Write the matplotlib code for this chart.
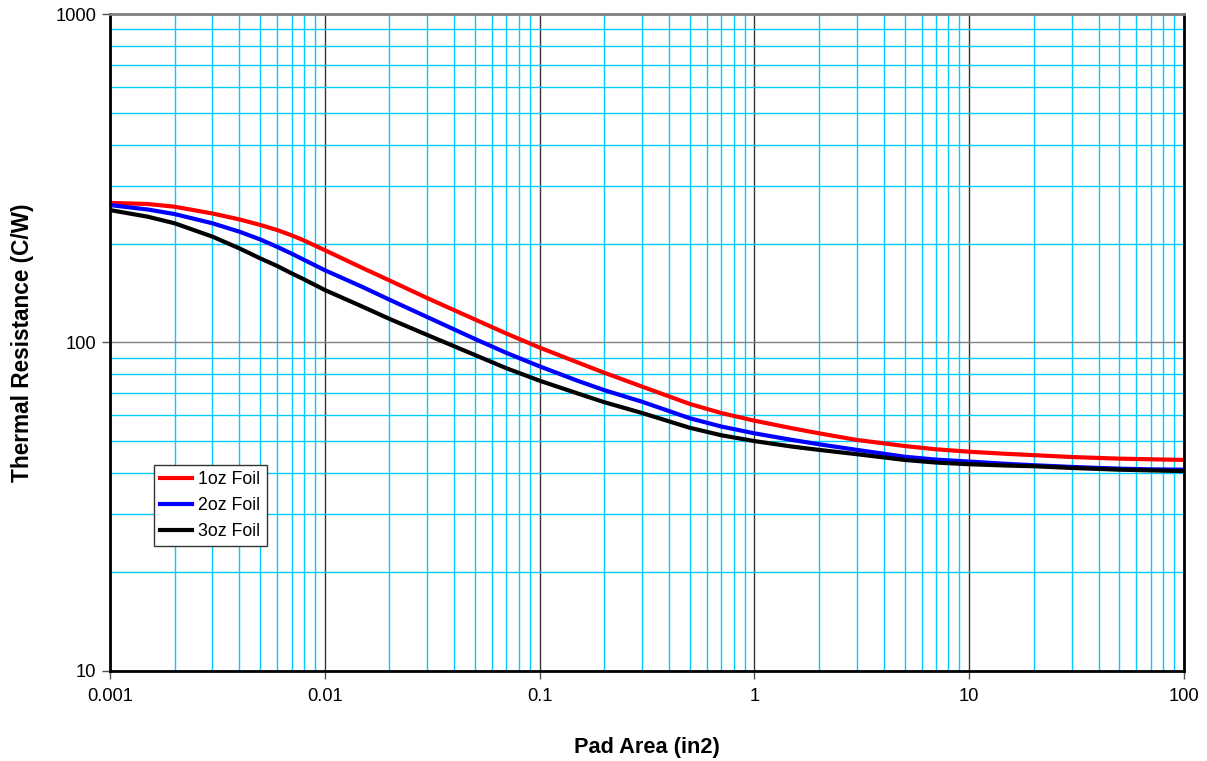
import matplotlib
matplotlib.use("Agg")
import matplotlib.pyplot as plt
from matplotlib.ticker import LogLocator, FixedLocator, FixedFormatter, NullFormatter

plt.rcParams['font.family'] = ['Liberation Sans', 'DejaVu Sans']

# pad area (in2) and thermal resistance (C/W)
pad_area = [0.001, 0.0015, 0.002, 0.003, 0.004, 0.005, 0.006, 0.007, 0.008, 0.01,
            0.015, 0.02, 0.03, 0.05, 0.07, 0.1, 0.15, 0.2, 0.3, 0.5, 0.7,
            1, 1.5, 2, 3, 5, 7, 10, 15, 20, 30, 50, 70, 100]
foil_1oz = [266, 264, 259, 247, 237, 228, 220, 212, 204.5, 191,
            168.5, 154.5, 136.5, 117.5, 106.5, 96.5, 87, 80.9, 73.4, 65, 61,
            57.8, 54.8, 52.9, 50.5, 48.4, 47.3, 46.5, 45.8, 45.4, 44.8, 44.3, 44.1, 43.9]
foil_2oz = [262, 254, 246, 230.6, 217.5, 206, 195.5, 186.5, 178.5, 166,
            147.5, 135, 119.5, 102.5, 93, 84.6, 76.5, 71.6, 66, 58.8, 55.5,
            52.9, 50.5, 49, 47.1, 44.9, 44, 43.4, 42.7, 42.3, 41.8, 41.3, 41.1, 41.0]
foil_3oz = [253, 241.5, 230.6, 210, 193.5, 180.4, 171, 162.4, 155.7, 144.5,
            128.5, 118, 105.4, 91.6, 83.5, 76.5, 70, 65.8, 61, 55, 52.2,
            50.1, 48.2, 47.1, 45.7, 43.9, 43.1, 42.6, 42.2, 42, 41.5, 41.0, 40.8, 40.6]

series = [(foil_1oz, '1oz Foil', '#FF0000'),
          (foil_2oz, '2oz Foil', '#0000FF'),
          (foil_3oz, '3oz Foil', '#000000')]

x_ticks = [0.001, 0.01, 0.1, 1, 10, 100]
x_labels = ['0.001', '0.01', '0.1', '1', '10', '100']
y_ticks = [10, 100, 1000]
y_labels = ['10', '100', '1000']

fig = plt.figure(figsize=(12.07, 7.61), dpi=100)
ax = fig.add_axes([0.0911, 0.1183, 0.8899, 0.8633])

ax.set_xscale('log')
ax.set_yscale('log')
ax.set_xlim(0.001, 100)
ax.set_ylim(10, 1000)

# grids: cyan minor, dark major
ax.xaxis.set_minor_locator(LogLocator(base=10, subs=range(2, 10), numticks=20))
ax.yaxis.set_minor_locator(LogLocator(base=10, subs=range(2, 10), numticks=20))
ax.grid(which='minor', axis='both', color='#00CCFF', linewidth=1.0)
ax.grid(which='major', axis='x', color='#333333', linewidth=1.0)
ax.grid(which='major', axis='y', color='#808080', linewidth=1.0)
ax.set_axisbelow(True)

for vals, lab, col in series:
    ax.plot(pad_area, vals, color=col, linewidth=3, label=lab,
            solid_joinstyle='round')

ax.xaxis.set_major_locator(FixedLocator(x_ticks))
ax.xaxis.set_major_formatter(FixedFormatter(x_labels))
ax.yaxis.set_major_locator(FixedLocator(y_ticks))
ax.yaxis.set_major_formatter(FixedFormatter(y_labels))
ax.xaxis.set_minor_formatter(NullFormatter())
ax.yaxis.set_minor_formatter(NullFormatter())
ax.tick_params(which='minor', length=0)
ax.tick_params(which='major', length=6, width=1, color='#555555',
               labelsize=13.2, direction='out')
ax.tick_params(axis='x', pad=6)
ax.tick_params(axis='y', pad=4)

for side in ['left', 'bottom', 'right']:
    ax.spines[side].set_color('black')
    ax.spines[side].set_linewidth(2)
ax.spines['top'].set_color('#808080')
ax.spines['top'].set_linewidth(2)

ax.set_xlabel('Pad Area (in2)', fontsize=15.7, fontweight='bold', labelpad=23)
ax.set_ylabel('Thermal Resistance (C/W)', fontsize=16.3, fontweight='bold', labelpad=15)

leg = ax.legend(loc='upper left', bbox_to_anchor=(0.041, 0.3135), borderaxespad=0,
                fontsize=12.8, fancybox=False, framealpha=1, handlelength=1.8,
                handletextpad=0.35, borderpad=0.35, labelspacing=0.5)
leg.get_frame().set_edgecolor('#333333')
leg.get_frame().set_linewidth(1.0)

fig.savefig('out.png', dpi=100)
